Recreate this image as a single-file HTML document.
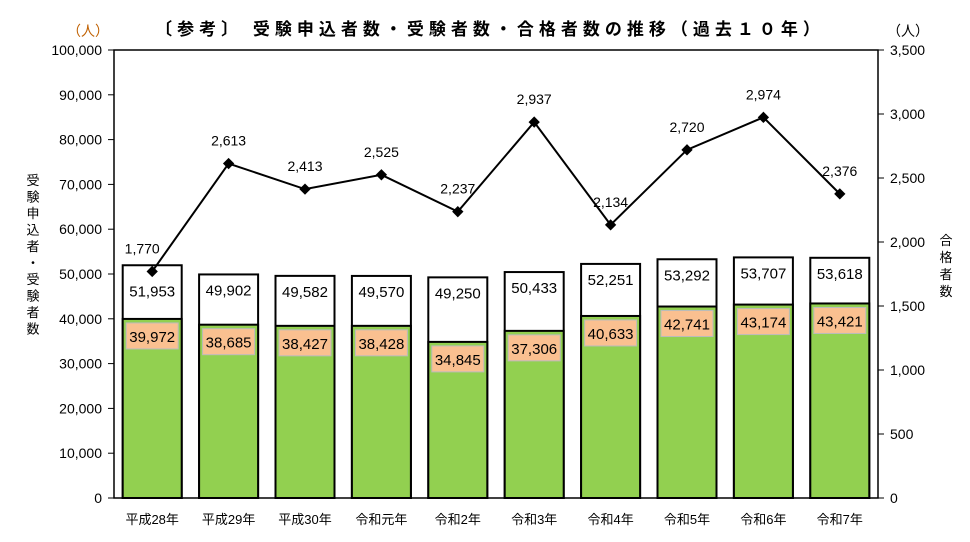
<!DOCTYPE html>
<html><head><meta charset="utf-8"><style>
body{margin:0;background:#fff;}
text{font-family:"Liberation Sans","Noto Sans CJK JP",sans-serif;}
</style></head><body>
<svg id="c" width="970" height="537" xmlns="http://www.w3.org/2000/svg">
<text x="490" y="35" text-anchor="middle" font-size="17" font-weight="bold" letter-spacing="5" font-family="'Noto Sans CJK JP',sans-serif">〔参考〕 受験申込者数・受験者数・合格者数の推移（過去１０年）</text>
<text x="88" y="36" font-size="14" fill="#c06000" text-anchor="middle">（人）</text>
<text x="908" y="36" font-size="14" text-anchor="middle">（人）</text>
<g id="g"></g>
</svg>
<script>
const categories=["平成28年","平成29年","平成30年","令和元年","令和2年","令和3年","令和4年","令和5年","令和6年","令和7年"];
const applicants=[51953,49902,49582,49570,49250,50433,52251,53292,53707,53618];
const examinees=[39972,38685,38427,38428,34845,37306,40633,42741,43174,43421];
const passers=[1770,2613,2413,2525,2237,2937,2134,2720,2974,2376];
const leftTicks=[0,10000,20000,30000,40000,50000,60000,70000,80000,90000,100000];
const rightTicks=[0,500,1000,1500,2000,2500,3000,3500];
const NS="http://www.w3.org/2000/svg";
const g=document.getElementById('g');
const L=114,R=878,T=50,B=498;
const yL=v=>B-(v/100000)*(B-T);
const yR=v=>B-(v/3500)*(B-T);
const band=(R-L)/categories.length;
const xC=i=>L+band*(i+0.5);
const fmt=v=>v.toLocaleString('en-US');
function mk(tag,a,txt){const e=document.createElementNS(NS,tag);for(const k in a)e.setAttribute(k,a[k]);if(txt!==undefined)e.textContent=txt;g.appendChild(e);return e;}
let e=mk('rect',{x:L,y:T,width:R-L,height:B-T,fill:'none',stroke:'#000','stroke-width':1.5});


leftTicks.forEach(v=>{
 e=mk('line',{x1:L-6,x2:L,y1:yL(v),y2:yL(v),stroke:'#000'});
 
 
 e=mk('text',{x:L-12,y:yL(v)+5,'text-anchor':'end','font-size':14},fmt(v));
 
 
});
rightTicks.forEach(v=>{
 e=mk('line',{x1:R,x2:R+6,y1:yR(v),y2:yR(v),stroke:'#000'});
 
 
 e=mk('text',{x:R+12,y:yR(v)+5,'text-anchor':'start','font-size':14},fmt(v));
 
 
});
const bw=59;
categories.forEach((c,i)=>{
 const x=xC(i)-bw/2;
 e=mk('rect',{x:x,y:yL(applicants[i]),width:bw,height:B-yL(applicants[i]),fill:'#fff',stroke:'#000','stroke-width':2});
 
 
 e=mk('rect',{x:x,y:yL(examinees[i]),width:bw,height:B-yL(examinees[i]),fill:'#92D050',stroke:'#000','stroke-width':2});
 
 
 e=mk('rect',{x:xC(i)-26,y:yL(examinees[i])+4,width:52,height:26,fill:'#FAC090',stroke:'#bbb','stroke-width':1});
 
 
 e=mk('text',{x:xC(i),y:yL(examinees[i])+23,'text-anchor':'middle','font-size':15},fmt(examinees[i]));
 
 
 e=mk('text',{x:xC(i),y:yL(applicants[i])+(i==0?31:21),'text-anchor':'middle','font-size':15},fmt(applicants[i]));
 
 
 e=mk('text',{x:xC(i),y:524,'text-anchor':'middle','font-size':13},c);
 
 
});
e=mk('polyline',{points:passers.map((v,i)=>xC(i)+','+yR(v)).join(' '),fill:'none',stroke:'#000','stroke-width':2});


passers.forEach((v,i)=>{
 const x=xC(i),y=yR(v);
 e=mk('rect',{x:x-4,y:y-4,width:8,height:8,fill:'#000',transform:`rotate(45 ${x} ${y})`});
 
 
 e=mk('text',{x:i==0?x-10:x,y:y-18,'text-anchor':'middle','font-size':14},fmt(v));
 
 
});
const lt="受験申込者・受験者数".split("");
lt.forEach((ch,k)=>{
 e=mk('text',{x:33,y:185+k*16.5,'text-anchor':'middle','font-size':13,'font-family':"'Noto Sans CJK JP',sans-serif"},ch);
 
 
});
"合格者数".split("").forEach((ch,k)=>{
 e=mk('text',{x:946,y:245+k*17,'text-anchor':'middle','font-size':13,'font-family':"'Noto Sans CJK JP',sans-serif"},ch);
 
 
});
</script>
</body></html>
